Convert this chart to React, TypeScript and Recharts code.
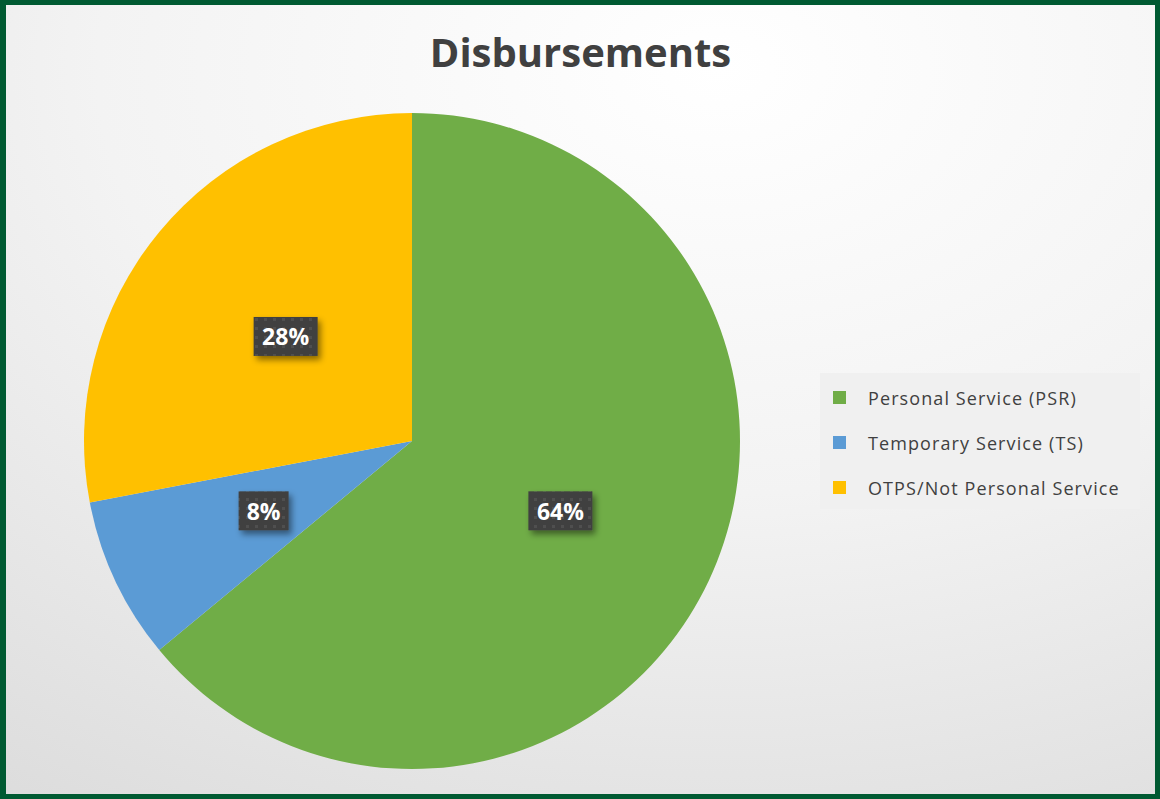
import React from 'react';
import { PieChart, Pie, Cell, Legend } from 'recharts';

const categories = ['Personal Service (PSR)', 'Temporary Service (TS)', 'OTPS/Not Personal Service'];
const shares = [64, 8, 28];
const colors = ['#70AD47', '#5B9BD5', '#FFC000'];

const data = categories.map((name, i) => ({ name, value: shares[i] }));

const RADIAN = Math.PI / 180;

const renderLabel = (props: any) => {
    const { cx, cy, midAngle, outerRadius, value, index } = props;
    const r = outerRadius * 0.5;
    const x = cx + r * Math.cos(-midAngle * RADIAN);
    const y = cy + r * Math.sin(-midAngle * RADIAN);
    const text = `${value}%`;
    const w = text.length * 14 + 22;
    const h = 39;
    return (
        <g key={`lbl-${index}`}>
            <defs>
                <pattern id="dots" width="9" height="9" patternUnits="userSpaceOnUse">
                    <rect width="9" height="9" fill="#404040" />
                    <rect x="3" y="3" width="3" height="3" fill="#4f4f4f" />
                </pattern>
                <filter id="shadow" x="-30%" y="-30%" width="160%" height="170%">
                    <feDropShadow dx="3" dy="4" stdDeviation="3" floodColor="#000" floodOpacity="0.45" />
                </filter>
            </defs>
            <rect x={x - w / 2} y={y - h / 2} width={w} height={h} fill="url(#dots)" filter="url(#shadow)" />
            <text x={x} y={y} fill="#fff" fontSize={23} fontWeight="bold" fontFamily="'Open Sans', sans-serif"
                textAnchor="middle" dominantBaseline="central">
                {text}
            </text>
        </g>
    );
};

// legend keeps the series order (recharts would sort it otherwise)
const renderLegend = () => (
    <div style={{
        width: 320, height: 136, background: '#f0f0f0', boxSizing: 'border-box',
        padding: '2px 0 0 13px', fontFamily: "'Open Sans', sans-serif",
    }}>
        {categories.map((name, i) => (
            <div key={`leg-${i}`} style={{ display: 'flex', alignItems: 'center', height: 45 }}>
                <span style={{ width: 13, height: 13, background: colors[i], display: 'inline-block', marginRight: 22 }} />
                <span style={{ fontSize: 18, color: '#404040', letterSpacing: 1.1 }}>{name}</span>
            </div>
        ))}
    </div>
);

export default function App() {
    return (
        <div style={{
            position: 'relative', width: 1160, height: 799, boxSizing: 'border-box',
            border: '5px solid #005A32', borderLeftWidth: 6,
            background: 'radial-gradient(ellipse 120% 120% at 62% 8%, #ffffff 0%, #f3f3f3 45%, #d9d9d9 100%)',
            overflow: 'hidden',
        }}>
            <style>{'body{margin:0}'}</style>
            <div style={{
                position: 'absolute', left: 0, right: 0, top: 19, textAlign: 'center',
                fontFamily: "'Open Sans', sans-serif", fontWeight: 'bold', fontSize: 40, color: '#404040',
            }}>
                Disbursements
            </div>
            <div style={{ position: 'absolute', left: -6, top: -5 }}>
                <PieChart width={1160} height={799} margin={{ top: 0, right: 0, bottom: 0, left: 0 }}>
                    <Pie
                        data={data}
                        dataKey="value"
                        nameKey="name"
                        cx={412}
                        cy={441}
                        outerRadius={328}
                        startAngle={90}
                        endAngle={-270}
                        stroke="none"
                        labelLine={false}
                        label={renderLabel}
                        isAnimationActive={false}
                    >
                        {data.map((entry, i) => (
                            <Cell key={`cell-${i}`} fill={colors[i]} />
                        ))}
                    </Pie>
                    <Legend
                        layout="vertical"
                        content={renderLegend}
                        wrapperStyle={{ position: 'absolute', left: 820, top: 373, width: 320 }}
                    />
                </PieChart>
            </div>
        </div>
    );
}
